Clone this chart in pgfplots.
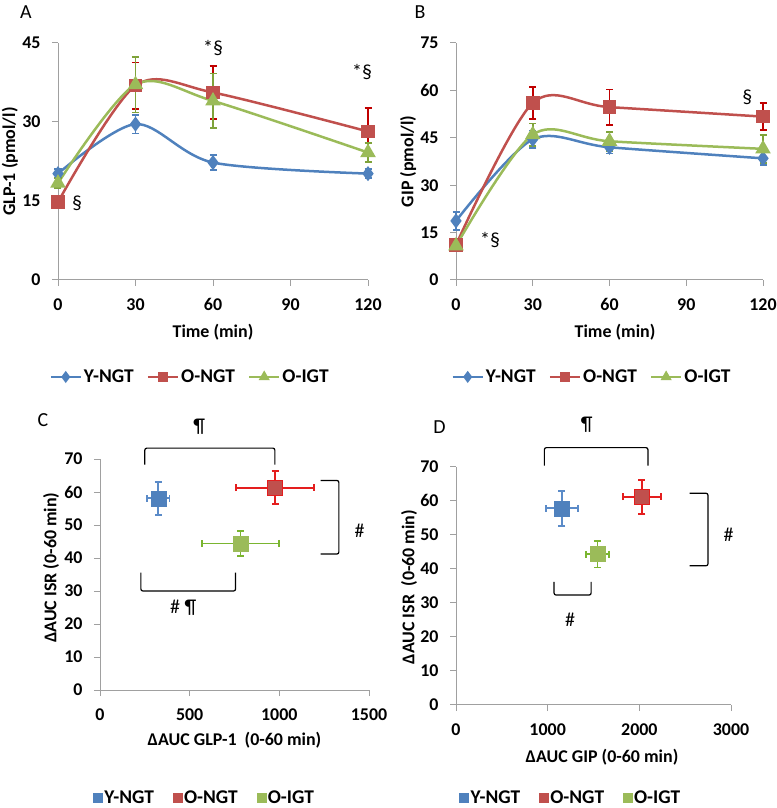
\documentclass[border=0pt]{standalone}
\usepackage{pgfplots}
\pgfplotsset{compat=1.18}
\usepackage{fontspec}
\setmainfont{Carlito}
\definecolor{cblue}{HTML}{4F81BD}
\definecolor{cred}{HTML}{C0504D}
\definecolor{cgreen}{HTML}{9BBB59}
\definecolor{ered}{HTML}{C00000}
\definecolor{egreen}{HTML}{7FA33A}
\definecolor{ered2}{HTML}{E41E1E}
\definecolor{egreen2}{HTML}{7AB530}
\definecolor{eblue2}{HTML}{5B8BC8}
\definecolor{axgray}{HTML}{A0A0A0}
\newcommand{\tickfont}{\fontsize{18}{20}\selectfont\bfseries}
\newcommand{\labfont}{\fontsize{18}{20}\selectfont\bfseries}
\newcommand{\legfont}{\fontsize{19.5}{21}\selectfont\bfseries}
\newcommand{\annfont}{\fontsize{20}{22}\selectfont}
\pgfplotsset{
 excel/.style={
  scale only axis,
  axis x line*=bottom, axis y line*=left,
  axis line style={axgray, line width=1bp},
  tick align=outside, major tick length=6bp,
  every tick/.style={axgray, line width=1bp},
  tick label style={font=\tickfont, black},
  xticklabel style={yshift=-9bp},
  yticklabel style={xshift=-8bp},
  /pgf/number format/assume math mode=true,
  /pgf/number format/1000 sep={},
  scaled ticks=false,
  clip=false,
  legend columns=3,
  legend style={draw=none, fill=none, font=\legfont},
  legend cell align=left,
 },
 linebl/.style={smooth, line width=2.5bp, mark options={solid}},
}
\pgfplotstableread{
t y e
0 20.2 0.8
30 29.6 1.8
60 22.3 1.4
120 20.2 0.8
}\AY
\pgfplotstableread{
t y e
0 14.8 1.0
30 36.9 4.4
60 35.6 5.0
120 28.2 4.5
}\AR
\pgfplotstableread{
t y e
0 18.4 1.0
30 37.1 5.3
60 34.0 5.2
120 24.2 1.8
}\AG
\pgfplotstableread{
t y e
0 18.7 2.8
30 44.5 2.8
60 42.0 2.0
120 38.5 2.0
}\BY
\pgfplotstableread{
t y e
0 11.1 0.8
30 56.0 5.0
60 54.7 5.6
120 51.7 4.2
}\BR
\pgfplotstableread{
t y e
0 10.8 0.8
30 46.0 3.5
60 43.9 3.0
120 41.5 4.4
}\BG
\begin{document}
\begin{tikzpicture}
\useasboundingbox (0,0) rectangle (777bp,808bp);
% panel letters
\node[font=\fontsize{20}{22}\selectfont] at (26bp,796bp) {A};
\node[font=\fontsize{20}{22}\selectfont] at (420bp,796bp) {B};
\node[font=\fontsize{20}{22}\selectfont] at (43bp,388bp) {C};
\node[font=\fontsize{20}{22}\selectfont] at (439.5bp,380.5bp) {D};
% ---------------- A
\begin{axis}[excel, at={(58bp,528bp)}, anchor=south west, width=310bp, height=237bp,
  xmin=0, xmax=120, ymin=0, ymax=45, xtick={0,30,60,90,120}, ytick={0,15,30,45},
  xlabel={Time (min)}, ylabel={GLP-1 (pmol/l)},
  every axis x label/.style={at={(axis description cs:0.5,-0.219)}, anchor=center, font=\labfont},
  every axis y label/.style={at={(axis description cs:-0.155,0.5)}, rotate=90, anchor=center, font=\labfont},
  legend style={at={(0.426,-0.409)}, anchor=center, /tikz/every even column/.append style={column sep=11bp}},
  legend image code/.code={\draw[mark repeat=2,mark phase=2,#1] plot coordinates {(0bp,0bp) (15bp,0bp) (30bp,0bp)};},
]
\addlegendimage{cblue, line width=2.5bp, mark=diamond*, mark size=4bp}
\addlegendentry{Y-NGT}
\addlegendimage{cred, line width=2.5bp, mark=square*, mark size=3.5bp}
\addlegendentry{O-NGT}
\addlegendimage{cgreen, line width=2.5bp, mark=triangle*, mark size=4bp}
\addlegendentry{O-IGT}
\addplot[forget plot, linebl, cblue, mark=diamond*, mark size=5.5bp, error bars/.cd, y dir=both, y explicit, error bar style={line width=1.8bp, cblue}, error mark options={rotate=90, mark size=3.5bp, line width=1.8bp, cblue}] table[x=t, y=y, y error=e] {\AY};
\addplot[forget plot, linebl, cred, mark=square*, mark size=5.5bp, error bars/.cd, y dir=both, y explicit, error bar style={line width=1.8bp, ered}, error mark options={rotate=90, mark size=3.5bp, line width=1.8bp, ered}] table[x=t, y=y, y error=e] {\AR};
\addplot[forget plot, linebl, cgreen, mark=triangle*, mark size=6.5bp, error bars/.cd, y dir=both, y explicit, error bar style={line width=1.8bp, egreen}, error mark options={rotate=90, mark size=3.5bp, line width=1.8bp, egreen}] table[x=t, y=y, y error=e] {\AG};
\node[font=\annfont] at (axis cs:7.4,14.6) {§};
\node[font=\annfont] at (axis cs:60,44) {*§};
\node[font=\annfont] at (axis cs:117.7,39.5) {*§};
\end{axis}
% ---------------- B
\begin{axis}[excel, at={(456bp,528bp)}, anchor=south west, width=307bp, height=237bp,
  xmin=0, xmax=120, ymin=0, ymax=75, xtick={0,30,60,90,120}, ytick={0,15,30,45,60,75},
  xlabel={Time (min)}, ylabel={GIP (pmol/l)},
  every axis x label/.style={at={(axis description cs:0.518,-0.219)}, anchor=center, font=\labfont},
  every axis y label/.style={at={(axis description cs:-0.156,0.5)}, rotate=90, anchor=center, font=\labfont},
  legend style={at={(0.443,-0.409)}, anchor=center, /tikz/every even column/.append style={column sep=11bp}},
  legend image code/.code={\draw[mark repeat=2,mark phase=2,#1] plot coordinates {(0bp,0bp) (15bp,0bp) (30bp,0bp)};},
]
\addlegendimage{cblue, line width=2.5bp, mark=diamond*, mark size=4bp}
\addlegendentry{Y-NGT}
\addlegendimage{cred, line width=2.5bp, mark=square*, mark size=3.5bp}
\addlegendentry{O-NGT}
\addlegendimage{cgreen, line width=2.5bp, mark=triangle*, mark size=4bp}
\addlegendentry{O-IGT}
\addplot[forget plot, linebl, cblue, mark=diamond*, mark size=5.5bp, error bars/.cd, y dir=both, y explicit, error bar style={line width=1.8bp, cblue}, error mark options={rotate=90, mark size=3.5bp, line width=1.8bp, cblue}] table[x=t, y=y, y error=e] {\BY};
\addplot[forget plot, linebl, cred, mark=square*, mark size=5.5bp, error bars/.cd, y dir=both, y explicit, error bar style={line width=1.8bp, ered}, error mark options={rotate=90, mark size=3.5bp, line width=1.8bp, ered}] table[x=t, y=y, y error=e] {\BR};
\addplot[forget plot, linebl, cgreen, mark=triangle*, mark size=6.5bp, error bars/.cd, y dir=both, y explicit, error bar style={line width=1.8bp, egreen}, error mark options={rotate=90, mark size=3.5bp, line width=1.8bp, egreen}] table[x=t, y=y, y error=e] {\BG};
\node[font=\annfont] at (axis cs:13.3,12.7) {*§};
\node[font=\annfont] at (axis cs:113.9,57.7) {§};
\end{axis}
% ---------------- C
\begin{axis}[excel, at={(100bp,118bp)}, anchor=south west, width=269bp, height=231bp,
  xmin=0, xmax=1500, ymin=0, ymax=70, xtick={0,500,1000,1500}, ytick={0,10,...,70},
  xlabel={ΔAUC GLP-1\ \ (0-60 min)}, ylabel={ΔAUC ISR (0-60 min)},
  every axis x label/.style={at={(axis description cs:0.5,-0.216)}, anchor=center, font=\labfont},
  every axis y label/.style={at={(axis description cs:-0.182,0.53)}, rotate=90, anchor=center, font=\labfont},
  legend style={at={(0.389,-0.468)}, anchor=center, /tikz/every even column/.append style={column sep=17bp}},
  legend image code/.code={\draw[#1] plot coordinates {(4.5bp,0bp)};},
]
\addlegendimage{only marks, mark=square*, mark size=4.5bp, cblue}
\addlegendentry{Y-NGT}
\addlegendimage{only marks, mark=square*, mark size=4.5bp, cred}
\addlegendentry{O-NGT}
\addlegendimage{only marks, mark=square*, mark size=4.5bp, cgreen}
\addlegendentry{O-IGT}
\addplot[forget plot, only marks, mark=square*, mark size=7.5bp, cblue, error bars/.cd, x dir=both, x explicit, y dir=both, y explicit, error bar style={line width=1.8bp, eblue2}, error mark options={rotate=90, mark size=3.5bp, line width=1.8bp, eblue2}] table[x=x, y=y, x error=ex, y error=ey] {
x y ex ey
325 58.1 63 5
};
\addplot[forget plot, only marks, mark=square*, mark size=7.5bp, cred, mark options={draw=ered2}, error bars/.cd, x dir=both, x explicit, y dir=both, y explicit, error bar style={line width=1.8bp, ered2}, error mark options={rotate=90, mark size=3.5bp, line width=1.8bp, ered2}] table[x=x, y=y, x error=ex, y error=ey] {
x y ex ey
976 61.3 216 5
};
\addplot[forget plot, only marks, mark=square*, mark size=7.5bp, cgreen, error bars/.cd, x dir=both, x explicit, y dir=both, y explicit, error bar style={line width=1.8bp, egreen2}, error mark options={rotate=90, mark size=3.5bp, line width=1.8bp, egreen2}] table[x=x, y=y, x error=ex, y error=ey] {
x y ex ey
783 44.4 215 3.9
};
\draw[line width=1.2bp, rounded corners=2bp] (axis cs:250,68.3) -- (axis cs:250,73.3) -- (axis cs:975,73.3) -- (axis cs:975,68.3);
\draw[line width=1.2bp, rounded corners=2bp] (axis cs:1230,63.5) -- (axis cs:1332,63.5) -- (axis cs:1332,41.2) -- (axis cs:1230,41.2);
\draw[line width=1.2bp, rounded corners=2bp] (axis cs:228,35.6) -- (axis cs:228,30) -- (axis cs:756,30) -- (axis cs:756,35.6);
\node[font=\annfont] at (axis cs:553,79.9) {¶};
\node[font=\annfont] at (axis cs:1448,48.3) {\#};
\node[font=\annfont] at (axis cs:464,25) {\# ¶};
\end{axis}
% ---------------- D
\begin{axis}[excel, at={(456bp,103bp)}, anchor=south west, width=275bp, height=238.3bp,
  xmin=0, xmax=3000, ymin=0, ymax=70, xtick={0,1000,2000,3000}, ytick={0,10,...,70},
  xlabel={ΔAUC GIP (0-60 min)}, ylabel={ΔAUC ISR\ \ (0-60 min)},
  every axis x label/.style={at={(axis description cs:0.531,-0.217)}, anchor=center, font=\labfont},
  every axis y label/.style={at={(axis description cs:-0.171,0.495)}, rotate=90, anchor=center, font=\labfont},
  legend style={at={(0.418,-0.390)}, anchor=center, /tikz/every even column/.append style={column sep=17bp}},
  legend image code/.code={\draw[#1] plot coordinates {(4.5bp,0bp)};},
]
\addlegendimage{only marks, mark=square*, mark size=4.5bp, cblue}
\addlegendentry{Y-NGT}
\addlegendimage{only marks, mark=square*, mark size=4.5bp, cred}
\addlegendentry{O-NGT}
\addlegendimage{only marks, mark=square*, mark size=4.5bp, cgreen}
\addlegendentry{O-IGT}
\addplot[forget plot, only marks, mark=square*, mark size=7.5bp, cblue, error bars/.cd, x dir=both, x explicit, y dir=both, y explicit, error bar style={line width=1.8bp, eblue2}, error mark options={rotate=90, mark size=3.5bp, line width=1.8bp, eblue2}] table[x=x, y=y, x error=ex, y error=ey] {
x y ex ey
1154 57.8 173 5.1
};
\addplot[forget plot, only marks, mark=square*, mark size=7.5bp, cred, mark options={draw=ered2}, error bars/.cd, x dir=both, x explicit, y dir=both, y explicit, error bar style={line width=1.8bp, ered2}, error mark options={rotate=90, mark size=3.5bp, line width=1.8bp, ered2}] table[x=x, y=y, x error=ex, y error=ey] {
x y ex ey
2028 61.2 209 5
};
\addplot[forget plot, only marks, mark=square*, mark size=7.5bp, cgreen, error bars/.cd, x dir=both, x explicit, y dir=both, y explicit, error bar style={line width=1.8bp, egreen2}, error mark options={rotate=90, mark size=3.5bp, line width=1.8bp, egreen2}] table[x=x, y=y, x error=ex, y error=ey] {
x y ex ey
1543 44.3 127 3.9
};
\draw[line width=1.2bp, rounded corners=2bp] (axis cs:964,70.3) -- (axis cs:964,75.6) -- (axis cs:2094,75.6) -- (axis cs:2094,70.3);
\draw[line width=1.2bp, rounded corners=2bp] (axis cs:2548,62.2) -- (axis cs:2749,62.2) -- (axis cs:2749,40.9) -- (axis cs:2548,40.9);
\draw[line width=1.2bp, rounded corners=2bp] (axis cs:1070,36.2) -- (axis cs:1070,32.3) -- (axis cs:1474,32.3) -- (axis cs:1474,36.2);
\node[font=\annfont] at (axis cs:1427,82.3) {¶};
\node[font=\annfont] at (axis cs:2974,49.9) {\#};
\node[font=\annfont] at (axis cs:1245,25) {\#};
\end{axis}
\end{tikzpicture}
\end{document}
